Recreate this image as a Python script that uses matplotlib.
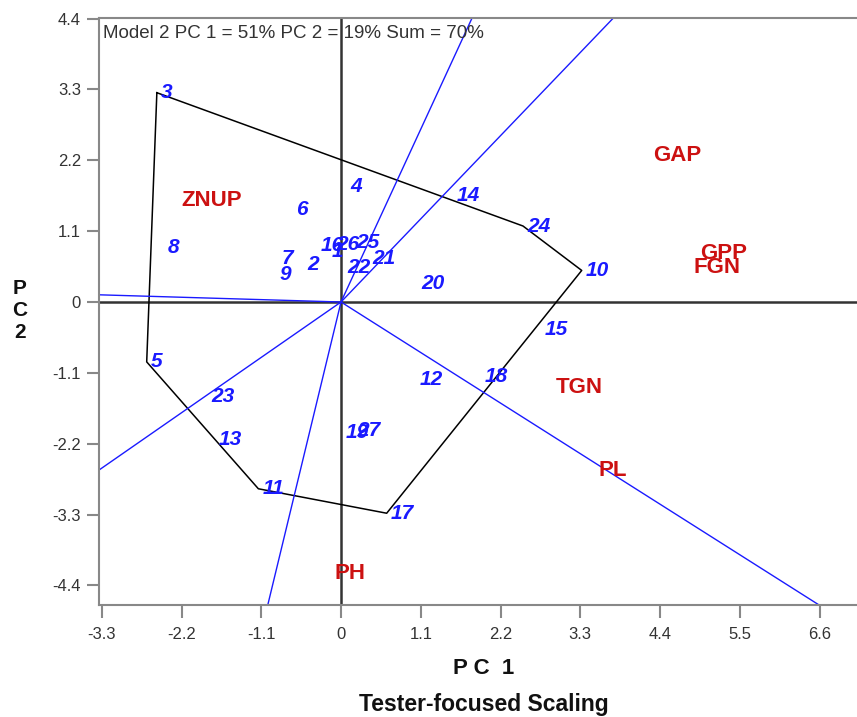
import numpy as np
import matplotlib
matplotlib.use("Agg")
import matplotlib.pyplot as plt

plt.rcParams['font.family'] = ['Liberation Sans', 'DejaVu Sans']

# genotipi (punti blu)
gen_nomi = ['1', '2', '3', '4', '5', '6', '7', '8', '9', '10', '11', '12', '13', '14',
            '15', '16', '17', '18', '19', '20', '21', '22', '23', '24', '25', '26', '27']
gen_x = [-0.19, -0.52, -2.54, 0.08, -2.68, -0.68, -0.88, -2.44, -0.91, 3.32, -1.14, 1.03,
         -1.74, 1.54, 2.76, -0.33, 0.63, 1.93, 0.01, 1.05, 0.37, 0.03, -1.85, 2.51, 0.15,
         -0.12, 0.17]
gen_y = [0.79, 0.59, 3.25, 1.79, -0.93, 1.44, 0.68, 0.84, 0.42, 0.49, -2.90, -1.21,
         -2.13, 1.65, -0.42, 0.87, -3.28, -1.15, -2.02, 0.28, 0.67, 0.53, -1.46, 1.18, 0.92,
         0.89, -2.00]

# ambienti (etichette rosse)
amb_nomi = ['GAP', 'GPP', 'FGN', 'TGN', 'PL', 'ZNUP', 'PH']
amb_x = [4.25, 4.90, 4.81, 2.90, 3.49, -2.26, -0.15]
amb_y = [2.27, 0.75, 0.53, -1.32, -2.62, 1.57, -4.22]

# vertici del poligono
poligono = ['3', '24', '10', '17', '11', '5']

tick_vals = [-3.3, -2.2, -1.1, 0, 1.1, 2.2, 3.3, 4.4, 5.5, 6.6]
ytick_vals = [-4.4, -3.3, -2.2, -1.1, 0, 1.1, 2.2, 3.3, 4.4]
tick_lab = ['-3.3', '-2.2', '-1.1', '0', '1.1', '2.2', '3.3', '4.4', '5.5', '6.6']
ytick_lab = ['-4.4', '-3.3', '-2.2', '-1.1', '0', '1.1', '2.2', '3.3', '4.4']

titolo = "Model 2 PC 1 = 51% PC 2 = 19% Sum = 70%"

fig = plt.figure(figsize=(8.57, 7.17), dpi=100)
ax = fig.add_axes([99/857, 112/717, 758/857, 587/717])
ax.set_xlim(-3.338, 7.117)
ax.set_ylim(-4.705, 4.41)

ax.axhline(0, color='#333333', lw=1.8, zorder=1)
ax.axvline(0, color='#333333', lw=1.8, zorder=1)

# poligono
px = [gen_x[gen_nomi.index(n)] for n in poligono]
py = [gen_y[gen_nomi.index(n)] for n in poligono]
ax.plot(px + [px[0]], py + [py[0]], color='black', lw=1.1, zorder=2)

# raggi perpendicolari ai lati
for i in range(len(px)):
    p = np.array([px[i], py[i]])
    q = np.array([px[(i + 1) % len(px)], py[(i + 1) % len(px)]])
    u = (q - p) / np.linalg.norm(q - p)
    piede = p - np.dot(p, u) * u
    d = piede / np.linalg.norm(piede)
    ax.plot([0, d[0] * 30], [0, d[1] * 30], color='#1a1aff', lw=1.0, zorder=2)

for n, x, y in zip(gen_nomi, gen_x, gen_y):
    ax.annotate(n, (x, y), xytext=(4, 0), textcoords='offset pixels', ha='left', va='center',
                color='#1a1aff', fontsize=15, fontweight='bold', fontstyle='italic', zorder=3)

for n, x, y in zip(amb_nomi, amb_x, amb_y):
    ax.annotate(n, (x, y), xytext=(4, 0), textcoords='offset pixels', ha='left', va='center',
                color='#cc1111', fontsize=16, fontweight='bold', zorder=3)

ax.text(0.005, 0.988, titolo, transform=ax.transAxes, ha='left', va='top',
        fontsize=13.5, color='#333333')

ax.set_xticks(tick_vals)
ax.set_xticklabels(tick_lab)
ax.set_yticks(ytick_vals)
ax.set_yticklabels(ytick_lab)
ax.tick_params(direction='out', length=9, width=1.5, color='#888888', labelsize=12,
               labelcolor='#333333', pad=4)
ax.tick_params(axis='x', pad=7)

for s in ['left', 'bottom', 'top']:
    ax.spines[s].set_color('#888888')
    ax.spines[s].set_linewidth(1.5)
ax.spines['right'].set_visible(False)

fig.text(484/857, 1 - 668/717, "P C  1", ha='center', va='center', fontsize=16,
         fontweight='bold', color='#111111')
fig.text(484/857, 1 - 705/717, "Tester-focused Scaling", ha='center', va='center',
         fontsize=16.5, fontweight='bold', color='#111111')
fig.text(20/857, 1 - 310/717, "P\nC\n2", ha='center', va='center', fontsize=15,
         fontweight='bold', color='#111111', linespacing=1.2)

fig.savefig('out.png', dpi=100)
